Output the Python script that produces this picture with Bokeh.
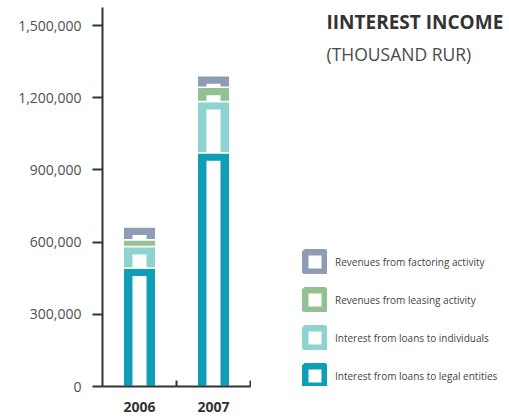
from bokeh.plotting import figure
from bokeh.layouts import row
from bokeh.models import (Range1d, FixedTicker, NumeralTickFormatter, Label,
                          Legend, LegendItem)
from bokeh.embed import file_html
from bokeh.resources import INLINE

years = ["2006", "2007"]
series = ["Interest from loans to legal entities",
          "Interest from loans to individuals",
          "Revenues from leasing activity",
          "Revenues from factoring activity"]
legal_entities = [492000, 971000]
individuals = [90000, 213000]
leasing = [28000, 60000]
factoring = [53000, 47000]
colors = ["#0e9fb6", "#8dd4d0", "#93c193", "#8f9db4"]
y_ticks = [0, 300000, 600000, 900000, 1200000, 1500000]

values = [legal_entities, individuals, leasing, factoring]

FONT = "Open Sans"
H = 418
p = figure(width=251, height=H, output_backend="svg", toolbar_location=None,
           x_range=Range1d(0, len(years)), y_range=Range1d(0, 1575000),
           min_border_left=102, min_border_right=1, min_border_top=7,
           min_border_bottom=32)
p.outline_line_color = None
p.xgrid.visible = False
p.ygrid.visible = False

px_per_unit = 379 / 1575000.0
cap = 8 / px_per_unit  # thickness of the top band of each segment

xs = [i + 0.5 for i in range(len(years))]
bottoms = [0.0] * len(years)
for vals, col in zip(values, colors):
    tops = [b + v for b, v in zip(bottoms, vals)]
    p.vbar(x=xs, bottom=bottoms, top=tops, width=0.44, fill_color=col,
           line_color="white", line_width=1.5)
    inner_tops = [max(b, t - cap) for b, t in zip(bottoms, tops)]
    p.vbar(x=xs, bottom=bottoms, top=inner_tops, width=0.19,
           fill_color="white", line_color=None)
    bottoms = tops

# y axis
ya = p.yaxis[0]
ya.ticker = FixedTicker(ticks=y_ticks)
ya.formatter = NumeralTickFormatter(format="0,0")
ya.axis_line_color = "#333333"
ya.axis_line_width = 2
ya.major_tick_line_color = "#333333"
ya.major_tick_line_width = 2
ya.major_tick_out = 10
ya.major_tick_in = 0
ya.minor_tick_line_color = None
ya.major_label_standoff = 11
ya.major_label_text_font = FONT
ya.major_label_text_font_size = "14px"
ya.major_label_text_color = "#505050"

# x axis
xa = p.xaxis[0]
xa.ticker = FixedTicker(ticks=xs, minor_ticks=[i + 1 for i in range(len(years))])
xa.major_label_overrides = {x: y for x, y in zip(xs, years)}
xa.axis_line_color = "#333333"
xa.axis_line_width = 2
xa.major_tick_line_color = None
xa.major_tick_out = 0
xa.major_tick_in = 0
xa.minor_tick_line_color = "#333333"
xa.minor_tick_line_width = 2
xa.minor_tick_in = 6
xa.minor_tick_out = 0
xa.major_label_standoff = 15
xa.major_label_text_font = FONT
xa.major_label_text_font_size = "14px"
xa.major_label_text_font_style = "bold"
xa.major_label_text_color = "#333333"

# side panel: title and legend
p2 = figure(width=258, height=H, output_backend="svg", toolbar_location=None,
            x_range=Range1d(-3, -2), y_range=Range1d(2e6, 3e6),
            min_border_left=0, min_border_right=0, min_border_top=7,
            min_border_bottom=32)
p2.axis.visible = False
p2.grid.visible = False
p2.outline_line_color = None

items = []
for name, col, vals in zip(series, colors, values):
    r = p2.vbar(x=xs, top=vals, width=0.1, fill_color="white",
                line_color=col, line_width=7)
    r.visible = False  # only its legend swatch is shown
    items.append(LegendItem(label=name, renderers=[r]))
legend = Legend(items=items[::-1], location=(51, -2), glyph_width=25,
                glyph_height=25, spacing=13, label_standoff=8, padding=0,
                margin=0, border_line_color=None, background_fill_alpha=0,
                label_text_font=FONT, label_text_font_size="10px",
                label_text_color="#444444", label_height=25,
                click_policy="none")
p2.add_layout(legend)

p2.add_layout(Label(x=75, y=365, x_units="screen", y_units="screen",
                    text="IINTEREST INCOME", text_font=FONT,
                    text_font_size="19px", text_font_style="bold",
                    text_baseline="alphabetic", text_color="#333333"))
p2.add_layout(Label(x=75, y=333, x_units="screen", y_units="screen",
                    text="(THOUSAND RUR)", text_font=FONT,
                    text_font_size="17.5px", text_baseline="alphabetic",
                    text_color="#4a4a4a"))

layout = row(p, p2, spacing=0)
open("out.html", "w").write(file_html(layout, INLINE))
